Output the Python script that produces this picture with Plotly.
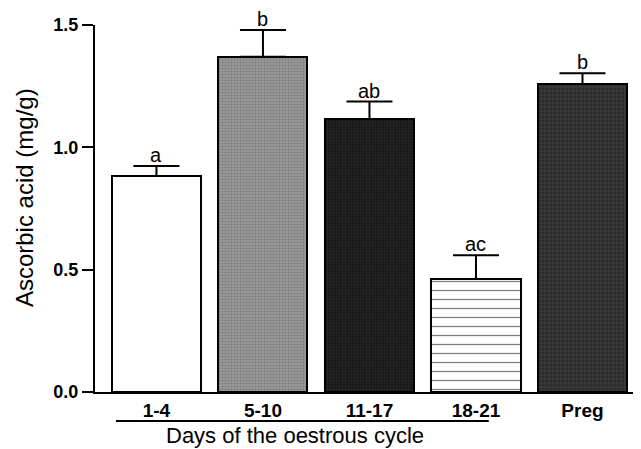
import plotly.graph_objects as go

categories = ["1-4", "5-10", "11-17", "18-21", "Preg"]
means = [0.883, 1.37, 1.116, 0.462, 1.259]
errors = [0.041, 0.11, 0.071, 0.097, 0.044]
letters = ["a", "b", "ab", "ac", "b"]
y_ticks = [0.0, 0.5, 1.0, 1.5]

FONT = "Arial, Liberation Sans, sans-serif"

fig = go.Figure()

styles = [
    dict(color="white", pattern=dict(shape="")),
    dict(color="#9a9a9a", pattern=dict(shape=".", fgcolor="#5a5a5a", size=3, solidity=0.35)),
    dict(color="#181818", pattern=dict(shape=".", fgcolor="#3c3c3c", size=3, solidity=0.3)),
    dict(color="white", pattern=dict(shape="-", fgcolor="black", size=9, solidity=0.14)),
    dict(color="#2c2c2c", pattern=dict(shape="+", fgcolor="#707070", size=4, solidity=0.22)),
]

for i, cat in enumerate(categories):
    st = styles[i]
    fig.add_trace(go.Bar(
        x=[cat], y=[means[i]],
        width=0.836,
        marker=dict(color=st["color"], pattern=st["pattern"],
                    line=dict(color="black", width=2)),
        error_y=dict(type="data", symmetric=False, array=[errors[i]], arrayminus=[0],
                     color="black", thickness=2, width=23),
        showlegend=False,
    ))

for i, cat in enumerate(categories):
    fig.add_annotation(x=cat, y=means[i] + errors[i], text=letters[i],
                       showarrow=False, yanchor="bottom", yshift=-2,
                       font=dict(family=FONT, size=20, color="black"))

# line under the oestrous-cycle categories
fig.add_shape(type="line", xref="x", yref="paper", x0=-0.38, x1=3.12, y0=-0.079, y1=-0.079,
              line=dict(color="black", width=2))

fig.add_annotation(xref="paper", yref="paper", x=0.367, y=-0.118, text="Days of the oestrous cycle",
                   showarrow=False, xanchor="center", yanchor="middle",
                   font=dict(family=FONT, size=22, color="black"))

fig.add_annotation(xref="paper", yref="paper", x=-0.128, y=0.529, text="Ascorbic acid (mg/g)",
                   textangle=-90, showarrow=False, xanchor="center", yanchor="middle",
                   font=dict(family=FONT, size=24, color="black"))

fig.update_layout(
    width=633, height=441,
    margin=dict(l=87, r=1, t=17, b=57),
    plot_bgcolor="white", paper_bgcolor="white",
    bargap=0,
    xaxis=dict(range=[-0.577, 4.54], showline=True, linecolor="black", linewidth=2,
               ticks="", showgrid=False, zeroline=False,
               tickfont=dict(family=FONT, size=19, color="black", weight="bold")),
    yaxis=dict(range=[0, 1.5], tickvals=y_ticks, tickformat=".1f", showline=True,
               linecolor="black", linewidth=2, ticks="outside", ticklen=11, tickwidth=2,
               tickcolor="black", showgrid=False, zeroline=False,
               tickfont=dict(family=FONT, size=18, color="black", weight="bold")),
)

fig.write_html("out.html")
